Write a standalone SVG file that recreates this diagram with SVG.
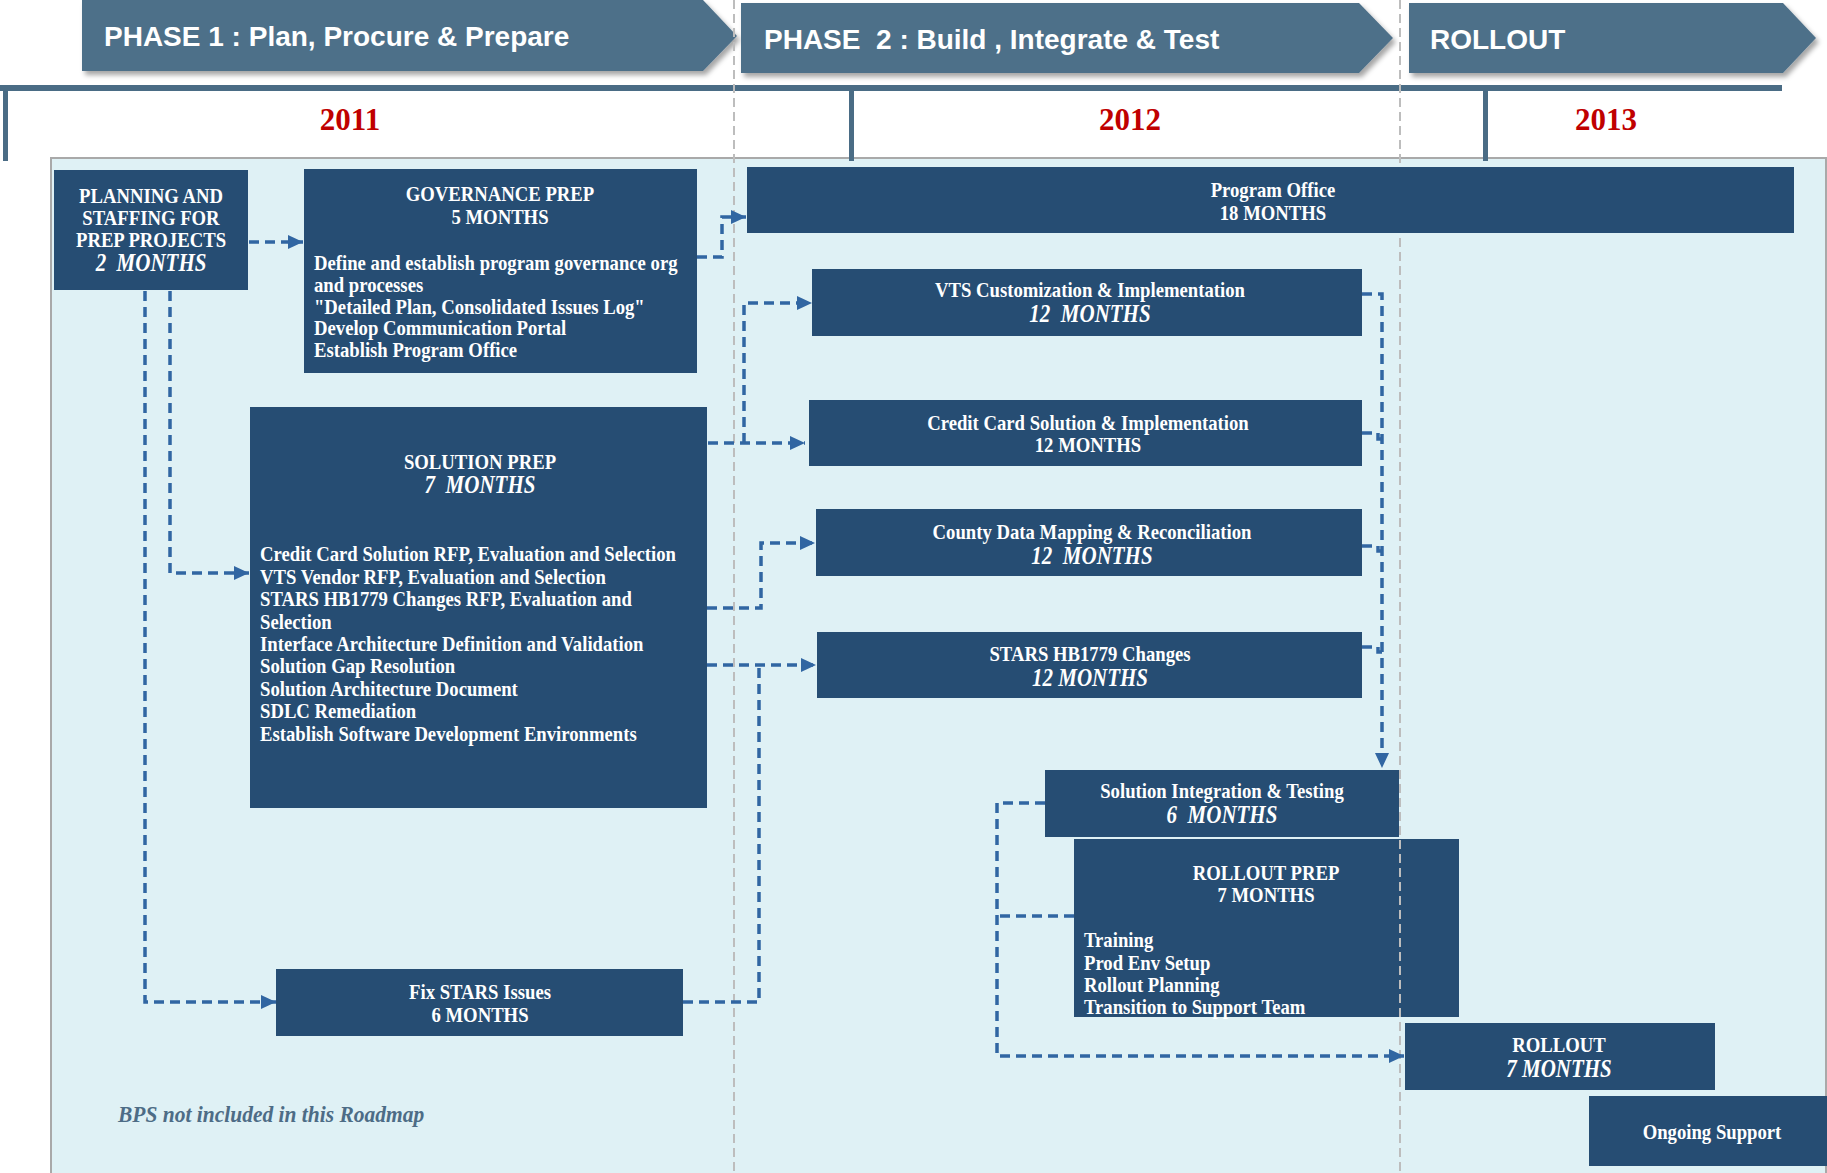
<svg xmlns="http://www.w3.org/2000/svg" width="1827" height="1173" viewBox="0 0 1827 1173">
<style>
.hd{fill:#4E7089}
.node{fill:#264D73}
.h{font-family:"Liberation Sans",Arial,sans-serif;font-weight:bold;font-size:28px;fill:#fff}
.yr{font-family:"Liberation Serif","Times New Roman",serif;font-weight:bold;font-size:31px;fill:#C00000;text-anchor:middle}
.t{font-family:"Liberation Serif","Times New Roman",serif;font-weight:bold;font-size:18.7px;fill:#fff;transform-box:fill-box;transform-origin:center;transform:scaleY(1.15)}
.c{text-anchor:middle}
.i{font-style:italic;font-size:21px}
.cn{fill:none;stroke:#3166A2;stroke-width:3.5;stroke-dasharray:10 6}
.grid{fill:none;stroke:#BDBDBD;stroke-width:2;stroke-dasharray:9 5}
.note{font-family:"Liberation Serif","Times New Roman",serif;font-weight:bold;font-style:italic;font-size:21.5px;fill:#4D6C86;transform-box:fill-box;transform-origin:center;transform:scaleY(1.12)}
</style>
<defs>
<filter id="sh" x="-5%" y="-10%" width="112%" height="130%">
<feDropShadow dx="3" dy="4" stdDeviation="2.5" flood-color="#000" flood-opacity="0.35"/>
</filter>
<marker id="ah" markerUnits="userSpaceOnUse" markerWidth="16" markerHeight="14" refX="15" refY="7" orient="auto">
<path d="M0,0 L15,7 L0,14 z" fill="#3166A2"/>
</marker>
<clipPath id="rpclip"><rect x="1390" y="839" width="20" height="178"/></clipPath>
</defs>
<rect width="1827" height="1173" fill="#fff"/>
<rect x="51" y="158" width="1775" height="1020" fill="#DFF1F5" stroke="#A9A9A9" stroke-width="2"/>

<g id="header">
<polygon class="hd" filter="url(#sh)" points="82,0 703,0 737,36 703,71 82,71"/>
<text class="h" x="104" y="46">PHASE 1 : Plan, Procure &amp; Prepare</text>
<polygon class="hd" filter="url(#sh)" points="741,3 1359,3 1393,38 1359,73 741,73"/>
<text class="h" x="764" y="49" xml:space="preserve">PHASE  2 : Build , Integrate &amp; Test</text>
<polygon class="hd" filter="url(#sh)" points="1409,3 1783,3 1816,38 1783,73 1409,73"/>
<text class="h" x="1430" y="49">ROLLOUT</text>
</g>

<g id="timeline">
<rect x="0" y="85" width="1782" height="6" fill="#4A6C85"/>
<rect x="3" y="85" width="5" height="76" fill="#4A6C85"/>
<rect x="849" y="88" width="5" height="73" fill="#4A6C85"/>
<rect x="1483" y="88" width="5" height="73" fill="#4A6C85"/>
<text class="yr" x="350" y="130">2011</text>
<text class="yr" x="1130" y="130">2012</text>
<text class="yr" x="1606" y="130">2013</text>
</g>

<g id="gridlines">
<line class="grid" x1="734" y1="0" x2="734" y2="1173"/>
<line class="grid" x1="1400" y1="0" x2="1400" y2="1173"/>
</g>

<g id="connectors">
<path class="cn" d="M249,242 H303" marker-end="url(#ah)"/>
<path class="cn" d="M170,291 V573 H249" marker-end="url(#ah)"/>
<path class="cn" d="M145,291 V1002 H276" marker-end="url(#ah)"/>
<path class="cn" d="M697,257 H722 V217 H746" marker-end="url(#ah)"/>
<path class="cn" d="M708,443 H805" marker-end="url(#ah)"/>
<path class="cn" d="M744,443 V303 H812" marker-end="url(#ah)"/>
<path class="cn" d="M707,608 H761 V543 H815" marker-end="url(#ah)"/>
<path class="cn" d="M707,665 H816" marker-end="url(#ah)"/>
<path class="cn" d="M683,1002 H759 V665"/>
<path class="cn" d="M1362,294 H1382 V768" marker-end="url(#ah)"/>
<path class="cn" d="M1362,433 H1378 V439 H1382"/>
<path class="cn" d="M1362,546 H1378 V551 H1382"/>
<path class="cn" d="M1362,647 H1378 V652 H1382"/>
<path class="cn" d="M1045,803 H997 V1056 H1404" marker-end="url(#ah)"/>
<path class="cn" d="M1074,916 H997"/>
</g>

<g id="planning">
<rect class="node" x="54" y="170" width="194" height="120"/>
<text class="t c" x="151" y="202">PLANNING AND</text>
<text class="t c" x="151" y="224">STAFFING FOR</text>
<text class="t c" x="151" y="246">PREP PROJECTS</text>
<text class="t c i" x="151" y="270" xml:space="preserve">2  MONTHS</text>
</g>

<g id="governance">
<rect class="node" x="304" y="169" width="393" height="204"/>
<text class="t c" x="500" y="200">GOVERNANCE PREP</text>
<text class="t c" x="500" y="223">5 MONTHS</text>
<text class="t" x="314" y="269">Define and establish program governance org</text>
<text class="t" x="314" y="291">and processes</text>
<text class="t" x="314" y="313">"Detailed Plan, Consolidated Issues Log"</text>
<text class="t" x="314" y="334">Develop Communication Portal</text>
<text class="t" x="314" y="356">Establish Program Office</text>
</g>

<g id="program-office">
<rect class="node" x="747" y="167" width="1047" height="66"/>
<text class="t c" x="1273" y="196">Program Office</text>
<text class="t c" x="1273" y="219">18 MONTHS</text>
</g>

<g id="vts">
<rect class="node" x="812" y="269" width="550" height="67"/>
<text class="t c" x="1090" y="296">VTS Customization &amp; Implementation</text>
<text class="t c i" x="1090" y="321" xml:space="preserve">12  MONTHS</text>
</g>

<g id="credit-card">
<rect class="node" x="809" y="400" width="553" height="66"/>
<text class="t c" x="1088" y="429">Credit Card Solution &amp; Implementation</text>
<text class="t c" x="1088" y="451">12 MONTHS</text>
</g>

<g id="county">
<rect class="node" x="816" y="509" width="546" height="67"/>
<text class="t c" x="1092" y="538">County Data Mapping &amp; Reconciliation</text>
<text class="t c i" x="1092" y="563" xml:space="preserve">12  MONTHS</text>
</g>

<g id="stars-hb1779">
<rect class="node" x="817" y="632" width="545" height="66"/>
<text class="t c" x="1090" y="660">STARS HB1779 Changes</text>
<text class="t c i" x="1090" y="685">12 MONTHS</text>
</g>

<g id="solution-prep">
<rect class="node" x="250" y="407" width="457" height="401"/>
<text class="t c" x="480" y="468">SOLUTION PREP</text>
<text class="t c i" x="480" y="492" xml:space="preserve">7  MONTHS</text>
<text class="t" x="260" y="560">Credit Card Solution RFP, Evaluation and Selection</text>
<text class="t" x="260" y="583">VTS Vendor RFP, Evaluation and Selection</text>
<text class="t" x="260" y="605">STARS HB1779 Changes RFP, Evaluation and</text>
<text class="t" x="260" y="628">Selection</text>
<text class="t" x="260" y="650">Interface Architecture Definition and Validation</text>
<text class="t" x="260" y="672">Solution Gap Resolution</text>
<text class="t" x="260" y="695">Solution Architecture Document</text>
<text class="t" x="260" y="717">SDLC Remediation</text>
<text class="t" x="260" y="740">Establish Software Development Environments</text>
</g>

<g id="fix-stars">
<rect class="node" x="276" y="969" width="407" height="67"/>
<text class="t c" x="480" y="998">Fix STARS Issues</text>
<text class="t c" x="480" y="1021">6 MONTHS</text>
</g>

<g id="solution-integration">
<rect class="node" x="1045" y="770" width="354" height="67"/>
<text class="t c" x="1222" y="797">Solution Integration &amp; Testing</text>
<text class="t c i" x="1222" y="822" xml:space="preserve">6  MONTHS</text>
</g>

<g id="rollout-prep">
<rect class="node" x="1074" y="839" width="385" height="178"/>
<text class="t c" x="1266" y="879">ROLLOUT PREP</text>
<text class="t c" x="1266" y="901">7 MONTHS</text>
<text class="t" x="1084" y="946">Training</text>
<text class="t" x="1084" y="969">Prod Env Setup</text>
<text class="t" x="1084" y="991">Rollout Planning</text>
<text class="t" x="1084" y="1013">Transition to Support Team</text>
</g>
<line class="grid" x1="1400" y1="0" x2="1400" y2="1173" clip-path="url(#rpclip)"/>

<g id="rollout">
<rect class="node" x="1405" y="1023" width="310" height="67"/>
<text class="t c" x="1559" y="1051">ROLLOUT</text>
<text class="t c i" x="1559" y="1076">7 MONTHS</text>
</g>

<g id="ongoing-support">
<rect class="node" x="1589" y="1096" width="238" height="70"/>
<text class="t c" x="1712" y="1138">Ongoing Support</text>
</g>

<text class="note" x="118" y="1121">BPS not included in this Roadmap</text>
</svg>
